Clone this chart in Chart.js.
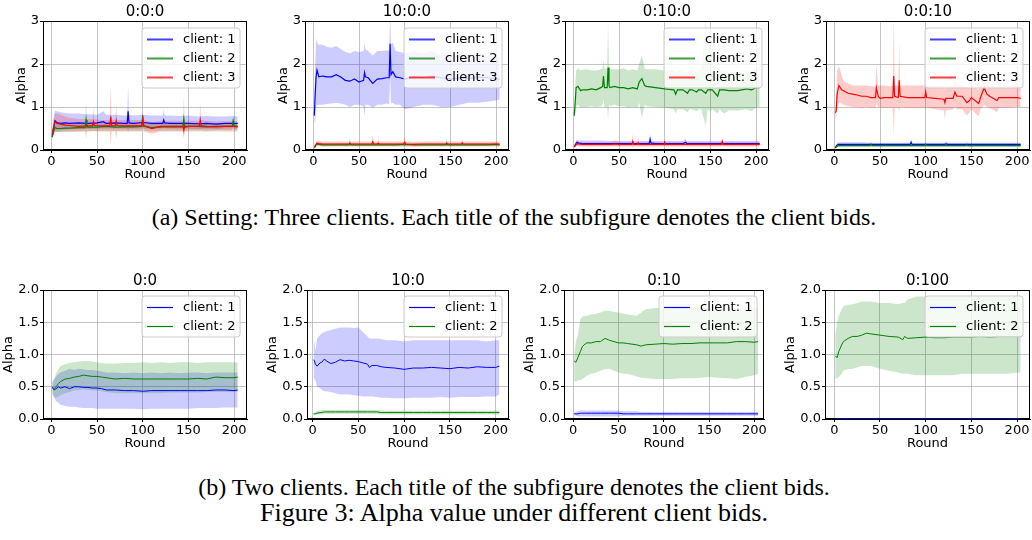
<!DOCTYPE html>
<html><head><meta charset="utf-8">
<script src="https://cdn.jsdelivr.net/npm/chart.js@4.4.1/dist/chart.umd.min.js"></script>
<style>
html,body{margin:0;padding:0;background:#fff;width:1032px;height:540px;overflow:hidden;position:relative}
canvas{position:absolute}
.cap{position:absolute;left:-2px;width:1032px;text-align:center;font-family:"Liberation Serif","Times New Roman",serif;line-height:1;white-space:nowrap;color:#000}
</style></head><body>
<div class="cap" style="top:205px;font-size:24px">(a) Setting: Three clients. Each title of the subfigure denotes the client bids.</div>
<div class="cap" style="top:475px;font-size:24px">(b) Two clients. Each title of the subfigure denotes the client bids.</div>
<div class="cap" style="top:500px;font-size:26px">Figure 3: Alpha value under different client bids.</div>
<script>
// ---------- labels / ticks ----------
const CLIENT_LABELS = ['client: 1', 'client: 2', 'client: 3'];
const TITLES_TOP = ['0:0:0', '10:0:0', '0:10:0', '0:0:10'];
const TITLES_BOTTOM = ['0:0', '10:0', '0:10', '0:100'];
const X_TICKS = [0, 50, 100, 150, 200];
const Y_TICKS_TOP = [0, 1, 2, 3];
const Y_TICKS_BOTTOM = [0, 0.5, 1, 1.5, 2];

// ---------- (a) 0:0:0 ----------
const A_c1_x = [1,2,4,6,10,15,20,30,40,50,57,60,70,80,83,84,85,90,100,110,120,122,123,124,130,140,150,160,170,180,190,200,204];
const A_c1_mean = [0.31,0.45,0.68,0.64,0.62,0.63,0.62,0.63,0.62,0.63,0.66,0.62,0.63,0.62,0.62,0.9,0.63,0.62,0.64,0.62,0.62,0.62,0.7,0.63,0.62,0.62,0.62,0.61,0.62,0.6,0.62,0.62,0.62];
const A_c1_hi = [0.4,0.7,0.92,0.9,0.88,0.86,0.85,0.85,0.83,0.82,0.9,0.82,0.82,0.8,0.8,1.5,0.82,0.8,0.82,0.8,0.8,0.8,0.95,0.8,0.8,0.79,0.8,0.78,0.79,0.78,0.78,0.79,0.78];
const A_c1_lo = [0.25,0.3,0.45,0.45,0.46,0.47,0.48,0.48,0.49,0.5,0.5,0.5,0.5,0.5,0.5,0.42,0.5,0.5,0.5,0.5,0.5,0.5,0.55,0.5,0.5,0.5,0.5,0.49,0.5,0.48,0.5,0.5,0.5];
const A_c2_x = [1,2,4,6,10,15,20,30,37,38,39,50,60,70,80,90,99,100,101,110,120,130,140,144,145,146,150,160,170,180,190,198,199,200,204];
const A_c2_mean = [0.3,0.42,0.52,0.5,0.5,0.51,0.51,0.52,0.52,0.7,0.53,0.53,0.55,0.53,0.54,0.54,0.55,0.8,0.55,0.52,0.54,0.54,0.54,0.54,0.72,0.53,0.55,0.55,0.54,0.55,0.55,0.55,0.68,0.56,0.55];
const A_c2_hi = [0.38,0.5,0.6,0.6,0.6,0.6,0.6,0.61,0.62,1.15,0.62,0.62,0.63,0.62,0.62,0.62,0.63,0.85,0.63,0.6,0.62,0.62,0.62,0.62,1.25,0.62,0.62,0.63,0.62,0.62,0.63,0.63,0.8,0.63,0.62];
const A_c2_lo = [0.25,0.35,0.42,0.42,0.42,0.43,0.43,0.44,0.44,0.25,0.44,0.44,0.45,0.44,0.45,0.45,0.45,0.75,0.45,0.43,0.45,0.45,0.45,0.45,0.3,0.44,0.46,0.46,0.45,0.46,0.46,0.46,0.55,0.47,0.46];
const A_c3_x = [1,2,4,6,10,15,20,30,40,45,46,47,55,60,64,65,66,70,71,72,80,90,99,100,101,110,120,130,140,144,145,146,150,162,163,164,170,180,190,200,204];
const A_c3_mean = [0.35,0.5,0.66,0.62,0.6,0.58,0.57,0.55,0.56,0.56,0.66,0.57,0.56,0.56,0.56,0.78,0.57,0.56,0.68,0.57,0.56,0.56,0.56,0.73,0.57,0.5,0.55,0.55,0.55,0.55,0.46,0.55,0.55,0.55,0.7,0.56,0.55,0.54,0.55,0.55,0.54];
const A_c3_hi = [0.42,0.65,0.85,0.85,0.82,0.78,0.75,0.72,0.72,0.72,1.0,0.72,0.7,0.7,0.7,1.5,0.72,0.7,1.05,0.7,0.7,0.7,0.7,0.9,0.7,0.65,0.68,0.68,0.68,0.68,0.6,0.68,0.68,0.68,1.12,0.7,0.68,0.66,0.67,0.67,0.66];
const A_c3_lo = [0.28,0.35,0.42,0.42,0.42,0.42,0.42,0.42,0.43,0.43,0.45,0.43,0.43,0.43,0.43,0.1,0.43,0.43,0.25,0.43,0.43,0.43,0.43,0.55,0.43,0.38,0.43,0.43,0.43,0.43,0.28,0.43,0.43,0.43,0.45,0.43,0.43,0.43,0.43,0.43,0.43];

// ---------- (a) 10:0:0 ----------
const B_c1_x = [1,2,3,4,6,10,15,20,25,30,35,40,45,50,55,56,57,60,65,70,75,80,83,84,85,87,90,95,100,110,120,130,140,150,160,170,180,190,200,204];
const B_c1_mean = [0.8,1.3,1.7,1.86,1.7,1.72,1.7,1.7,1.75,1.7,1.62,1.6,1.65,1.58,1.62,1.8,1.7,1.68,1.55,1.65,1.66,1.68,1.68,2.47,1.75,1.82,1.7,1.68,1.65,1.7,1.68,1.72,1.68,1.65,1.68,1.66,1.7,1.68,1.66,1.65];
const B_c1_hi = [0.9,2.0,2.6,2.5,2.45,2.45,2.4,2.38,2.42,2.35,2.28,2.25,2.3,2.28,2.3,2.5,2.35,2.3,2.2,2.3,2.3,2.32,2.3,3.2,2.45,2.5,2.3,2.28,2.25,2.3,2.25,2.3,2.2,2.2,2.25,2.22,2.25,2.2,2.2,2.15];
const B_c1_lo = [0.65,0.62,1.0,1.05,1.05,1.05,1.07,1.08,1.1,1.08,1.05,1.0,1.05,1.05,1.02,0.78,1.05,1.05,0.98,1.05,1.05,1.08,1.06,1.7,1.08,1.1,1.05,1.05,0.95,1.0,1.05,1.05,1.0,1.0,1.05,1.1,1.1,1.12,1.15,1.18];
const B_c2_x = [1,2,4,6,10,20,30,39,40,41,50,60,70,80,90,100,110,120,130,140,145,146,147,150,160,170,180,190,200,204];
const B_c2_mean = [0.05,0.09,0.14,0.13,0.12,0.12,0.12,0.12,0.16,0.12,0.12,0.12,0.12,0.12,0.12,0.13,0.12,0.12,0.12,0.12,0.12,0.16,0.12,0.12,0.12,0.12,0.12,0.12,0.13,0.12];
const B_c2_hi = [0.07,0.12,0.18,0.17,0.16,0.16,0.16,0.16,0.28,0.16,0.16,0.16,0.16,0.16,0.16,0.18,0.16,0.16,0.16,0.16,0.16,0.28,0.16,0.16,0.16,0.16,0.16,0.16,0.18,0.16];
const B_c2_lo = [0.04,0.06,0.1,0.09,0.08,0.08,0.08,0.08,0.09,0.08,0.08,0.08,0.08,0.08,0.08,0.09,0.08,0.08,0.08,0.08,0.08,0.09,0.08,0.08,0.08,0.08,0.08,0.08,0.09,0.08];
const B_c3_x = [1,2,4,6,10,20,30,40,50,64,65,66,70,71,72,80,90,99,100,101,110,120,130,140,150,162,163,164,170,180,190,200,204];
const B_c3_mean = [0.06,0.1,0.16,0.15,0.14,0.14,0.14,0.14,0.14,0.14,0.19,0.14,0.14,0.16,0.14,0.14,0.14,0.14,0.18,0.14,0.13,0.14,0.14,0.14,0.14,0.14,0.17,0.14,0.14,0.14,0.14,0.14,0.14];
const B_c3_hi = [0.08,0.15,0.22,0.21,0.2,0.2,0.2,0.2,0.2,0.2,0.36,0.2,0.2,0.25,0.2,0.2,0.2,0.2,0.3,0.2,0.19,0.2,0.2,0.2,0.2,0.2,0.24,0.2,0.2,0.2,0.2,0.2,0.2];
const B_c3_lo = [0.05,0.07,0.1,0.1,0.09,0.09,0.09,0.09,0.09,0.09,0.09,0.09,0.09,0.09,0.09,0.09,0.09,0.09,0.1,0.09,0.08,0.09,0.09,0.09,0.09,0.09,0.1,0.09,0.09,0.09,0.09,0.09,0.09];

// ---------- (a) 0:10:0 ----------
const C_c1_x = [1,2,4,6,10,20,30,40,50,60,70,80,83,84,85,90,100,110,120,123,124,130,140,150,160,170,180,190,200,204];
const C_c1_mean = [0.07,0.12,0.18,0.16,0.15,0.15,0.15,0.15,0.15,0.15,0.15,0.15,0.15,0.25,0.16,0.15,0.15,0.15,0.15,0.18,0.15,0.15,0.15,0.15,0.15,0.15,0.15,0.15,0.15,0.15];
const C_c1_hi = [0.09,0.18,0.24,0.22,0.22,0.22,0.22,0.21,0.21,0.21,0.21,0.21,0.21,0.38,0.22,0.21,0.21,0.21,0.21,0.26,0.21,0.21,0.21,0.21,0.21,0.21,0.21,0.21,0.21,0.21];
const C_c1_lo = [0.05,0.08,0.11,0.1,0.1,0.1,0.1,0.1,0.1,0.1,0.1,0.1,0.1,0.12,0.1,0.1,0.1,0.1,0.1,0.11,0.1,0.1,0.1,0.1,0.1,0.1,0.1,0.1,0.1,0.1];
const C_c2_x = [1,2,3,5,8,10,15,20,25,30,32,33,34,37,38,39,40,45,50,55,60,65,70,72,75,78,80,90,100,110,112,114,120,125,127,130,135,137,140,145,147,150,152,158,160,165,170,180,190,195,200,204];
const C_c2_mean = [0.8,1.1,1.45,1.48,1.38,1.4,1.4,1.42,1.4,1.45,1.48,1.72,1.45,1.45,1.92,1.5,1.45,1.48,1.45,1.45,1.42,1.45,1.42,1.58,1.66,1.5,1.48,1.45,1.42,1.4,1.3,1.4,1.4,1.32,1.4,1.4,1.35,1.4,1.4,1.32,1.4,1.4,1.4,1.25,1.4,1.4,1.38,1.38,1.42,1.4,1.45,1.45];
const C_c2_hi = [0.95,1.5,1.85,1.9,1.85,1.87,1.88,1.85,1.85,1.88,1.9,2.1,1.88,1.9,3.0,1.9,1.88,1.88,1.87,1.9,1.85,1.88,1.85,2.0,2.2,1.9,1.88,1.88,1.85,1.85,1.8,1.85,1.85,1.8,1.85,1.85,1.82,1.85,1.85,3.0,1.9,2.9,1.85,1.8,1.85,1.85,1.82,1.82,1.85,1.85,1.9,1.9];
const C_c2_lo = [0.7,0.8,1.0,1.05,0.98,1.0,1.0,1.02,1.0,1.02,1.05,1.2,1.0,1.0,0.7,1.05,1.02,1.05,1.02,1.02,0.98,1.0,0.98,1.1,0.75,1.05,1.02,1.0,0.98,0.95,0.85,0.95,0.95,0.88,0.95,0.95,0.9,0.95,0.95,0.55,0.95,0.9,0.95,0.85,0.95,0.85,0.92,0.92,0.95,0.9,0.98,1.0];
const C_c3_x = [1,2,4,6,10,20,30,40,46,50,60,64,65,66,70,71,72,80,90,99,100,101,110,120,130,140,150,162,163,164,170,180,190,200,204];
const C_c3_mean = [0.07,0.1,0.15,0.14,0.13,0.13,0.13,0.13,0.14,0.13,0.13,0.13,0.2,0.13,0.13,0.17,0.13,0.13,0.13,0.13,0.18,0.13,0.13,0.13,0.13,0.13,0.13,0.13,0.2,0.13,0.13,0.13,0.13,0.13,0.13];
const C_c3_hi = [0.09,0.14,0.2,0.19,0.18,0.18,0.18,0.18,0.22,0.18,0.18,0.18,0.38,0.18,0.18,0.3,0.18,0.18,0.18,0.18,0.26,0.18,0.18,0.18,0.18,0.18,0.18,0.18,0.28,0.18,0.18,0.18,0.18,0.18,0.18];
const C_c3_lo = [0.05,0.07,0.1,0.09,0.08,0.08,0.08,0.08,0.08,0.08,0.08,0.08,0.06,0.08,0.08,0.07,0.08,0.08,0.08,0.08,0.1,0.08,0.08,0.08,0.08,0.08,0.08,0.08,0.1,0.08,0.08,0.08,0.08,0.08,0.08];

// ---------- (a) 0:0:10 ----------
const D_c1_x = [1,2,4,6,10,20,30,40,50,60,70,80,83,84,85,90,100,110,120,123,124,130,140,150,160,170,180,190,200,204];
const D_c1_mean = [0.05,0.09,0.13,0.13,0.13,0.13,0.13,0.13,0.13,0.13,0.13,0.13,0.13,0.18,0.13,0.13,0.13,0.13,0.13,0.14,0.13,0.13,0.13,0.13,0.13,0.13,0.13,0.13,0.13,0.13];
const D_c1_hi = [0.07,0.13,0.18,0.18,0.18,0.18,0.18,0.17,0.17,0.17,0.17,0.17,0.17,0.28,0.17,0.17,0.17,0.17,0.17,0.2,0.17,0.17,0.17,0.17,0.17,0.17,0.17,0.17,0.17,0.17];
const D_c1_lo = [0.04,0.06,0.09,0.09,0.09,0.09,0.09,0.09,0.09,0.09,0.09,0.09,0.09,0.1,0.09,0.09,0.09,0.09,0.09,0.1,0.09,0.09,0.09,0.09,0.09,0.09,0.09,0.09,0.09,0.09];
const D_c2_x = [1,2,4,6,10,20,30,39,40,41,50,60,70,80,90,99,100,101,110,120,130,140,144,145,146,150,160,170,180,190,200,204];
const D_c2_mean = [0.05,0.07,0.1,0.1,0.1,0.1,0.1,0.1,0.13,0.1,0.1,0.1,0.1,0.1,0.1,0.1,0.13,0.1,0.1,0.1,0.1,0.1,0.1,0.12,0.1,0.1,0.1,0.1,0.1,0.1,0.1,0.1];
const D_c2_hi = [0.06,0.09,0.12,0.12,0.12,0.12,0.12,0.12,0.22,0.12,0.12,0.12,0.12,0.12,0.12,0.12,0.2,0.12,0.12,0.12,0.12,0.12,0.12,0.22,0.12,0.12,0.12,0.12,0.12,0.12,0.12,0.12];
const D_c2_lo = [0.04,0.05,0.07,0.07,0.07,0.07,0.07,0.07,0.08,0.07,0.07,0.07,0.07,0.07,0.07,0.07,0.08,0.07,0.07,0.07,0.07,0.07,0.07,0.08,0.07,0.07,0.07,0.07,0.07,0.07,0.07,0.07];
const D_c3_x = [1,2,3,5,8,10,15,20,25,30,35,40,45,46,48,50,55,60,64,65,66,70,71,72,80,90,99,100,101,110,120,121,122,130,132,134,140,145,148,150,158,160,164,167,170,178,180,190,200,204];
const D_c3_mean = [0.87,0.9,1.3,1.5,1.4,1.38,1.32,1.3,1.28,1.25,1.25,1.22,1.22,1.45,1.25,1.2,1.22,1.22,1.22,1.72,1.25,1.22,1.62,1.25,1.22,1.22,1.22,1.35,1.22,1.2,1.18,1.1,1.2,1.2,1.35,1.25,1.25,1.1,1.15,1.22,1.08,1.22,1.45,1.3,1.25,1.15,1.22,1.22,1.22,1.2];
const D_c3_hi = [0.95,1.3,1.85,1.95,1.75,1.6,1.55,1.5,1.5,1.5,1.5,1.48,1.48,2.0,1.5,1.5,1.5,1.48,1.5,3.2,1.5,1.5,2.5,1.5,1.5,1.5,1.5,1.6,1.5,1.48,1.48,1.4,1.48,1.48,1.65,1.5,1.5,1.45,1.45,1.5,1.4,1.5,1.75,1.55,1.5,1.45,1.5,1.5,1.5,1.48];
const D_c3_lo = [0.72,0.75,0.9,1.1,1.08,1.05,1.02,1.0,1.0,0.98,1.0,0.98,0.98,1.1,1.0,0.98,0.98,0.98,0.98,0.3,0.98,0.98,0.9,1.0,0.98,0.98,0.98,0.95,0.98,0.95,0.92,0.7,0.92,0.95,1.0,0.95,0.95,0.8,0.88,0.95,0.78,0.95,1.05,1.0,0.98,0.88,0.98,0.98,1.0,1.0];

// ---------- (b) 0:0 ----------
const E_x = [1,3,5,8,10,15,20,25,30,35,40,45,50,55,60,65,70,80,90,100,110,120,130,140,150,160,170,180,190,200,204];
const E_c1_mean = [0.5,0.45,0.47,0.5,0.48,0.5,0.47,0.5,0.5,0.49,0.49,0.48,0.48,0.47,0.45,0.45,0.45,0.44,0.44,0.43,0.44,0.44,0.44,0.44,0.44,0.44,0.44,0.45,0.45,0.44,0.45];
const E_c1_hi = [0.58,0.62,0.66,0.7,0.72,0.75,0.78,0.76,0.78,0.77,0.76,0.76,0.75,0.74,0.72,0.72,0.72,0.71,0.72,0.71,0.72,0.71,0.72,0.71,0.72,0.72,0.71,0.72,0.72,0.72,0.72];
const E_c1_lo = [0.42,0.33,0.28,0.25,0.22,0.2,0.19,0.19,0.18,0.17,0.17,0.17,0.16,0.16,0.16,0.16,0.16,0.16,0.16,0.15,0.16,0.16,0.16,0.16,0.16,0.17,0.17,0.17,0.18,0.18,0.18];
const E_c2_mean = [0.48,0.47,0.5,0.55,0.58,0.62,0.63,0.65,0.66,0.68,0.67,0.66,0.66,0.65,0.64,0.63,0.62,0.63,0.62,0.62,0.62,0.62,0.62,0.62,0.62,0.63,0.62,0.65,0.64,0.64,0.65];
const E_c2_hi = [0.56,0.6,0.7,0.78,0.82,0.85,0.87,0.88,0.89,0.9,0.9,0.89,0.88,0.87,0.86,0.86,0.86,0.87,0.87,0.88,0.87,0.88,0.87,0.88,0.88,0.87,0.88,0.88,0.88,0.88,0.88];
const E_c2_lo = [0.38,0.35,0.33,0.35,0.37,0.4,0.42,0.44,0.45,0.46,0.45,0.44,0.44,0.43,0.42,0.41,0.4,0.4,0.4,0.4,0.4,0.4,0.41,0.41,0.41,0.41,0.42,0.42,0.42,0.42,0.42];

// ---------- (b) 10:0 ----------
const F_x = [1,2,3,5,8,10,13,15,20,25,30,35,40,45,50,55,60,62,65,70,75,80,90,100,110,120,130,140,150,160,170,180,190,200,204];
const F_c1_mean = [0.92,0.9,0.85,0.82,0.87,0.88,0.93,0.9,0.86,0.88,0.92,0.9,0.91,0.9,0.89,0.87,0.85,0.8,0.83,0.83,0.81,0.8,0.79,0.77,0.79,0.79,0.8,0.79,0.78,0.8,0.79,0.81,0.8,0.8,0.82];
const F_c1_hi = [1.2,1.2,1.05,1.25,1.3,1.33,1.35,1.36,1.38,1.4,1.42,1.42,1.42,1.41,1.42,1.35,1.28,1.25,1.25,1.25,1.24,1.22,1.22,1.2,1.22,1.22,1.22,1.22,1.22,1.22,1.22,1.22,1.2,1.22,1.22];
const F_c1_lo = [0.65,0.62,0.6,0.5,0.48,0.45,0.43,0.43,0.42,0.4,0.38,0.38,0.38,0.37,0.36,0.35,0.35,0.35,0.35,0.34,0.33,0.33,0.32,0.32,0.33,0.33,0.33,0.34,0.33,0.34,0.34,0.34,0.35,0.35,0.38];
const F_c2_mean = [0.08,0.08,0.08,0.09,0.1,0.1,0.11,0.11,0.11,0.11,0.11,0.11,0.11,0.11,0.11,0.11,0.11,0.11,0.11,0.11,0.1,0.1,0.1,0.1,0.1,0.1,0.1,0.1,0.1,0.1,0.1,0.1,0.1,0.1,0.1];
const F_c2_hi = [0.1,0.1,0.11,0.12,0.13,0.14,0.14,0.14,0.14,0.14,0.14,0.14,0.14,0.14,0.14,0.14,0.14,0.14,0.14,0.14,0.13,0.13,0.13,0.13,0.13,0.13,0.13,0.13,0.13,0.13,0.13,0.13,0.13,0.13,0.13];
const F_c2_lo = [0.06,0.06,0.06,0.07,0.07,0.07,0.08,0.08,0.08,0.08,0.08,0.08,0.08,0.08,0.08,0.08,0.08,0.08,0.08,0.08,0.07,0.07,0.07,0.07,0.07,0.07,0.07,0.07,0.07,0.07,0.07,0.07,0.07,0.07,0.07];

// ---------- (b) 0:10 ----------
const G_x = [1,3,5,8,10,12,15,20,25,30,35,40,45,50,55,60,70,75,80,90,100,110,120,130,140,150,160,170,180,190,200,204];
const G_c1_mean = [0.08,0.08,0.08,0.09,0.09,0.09,0.09,0.09,0.09,0.09,0.09,0.09,0.09,0.09,0.08,0.08,0.08,0.08,0.08,0.08,0.08,0.08,0.08,0.08,0.08,0.08,0.08,0.08,0.08,0.08,0.08,0.08];
const G_c1_hi = [0.1,0.11,0.12,0.13,0.13,0.13,0.13,0.13,0.13,0.13,0.13,0.13,0.13,0.13,0.12,0.12,0.12,0.11,0.11,0.11,0.11,0.11,0.11,0.11,0.11,0.11,0.11,0.11,0.11,0.11,0.11,0.11];
const G_c1_lo = [0.06,0.05,0.04,0.04,0.04,0.04,0.04,0.04,0.04,0.04,0.04,0.04,0.04,0.04,0.05,0.05,0.05,0.05,0.05,0.05,0.05,0.05,0.05,0.05,0.05,0.05,0.05,0.05,0.05,0.05,0.05,0.05];
const G_c2_mean = [0.9,0.88,0.95,1.05,1.12,1.15,1.18,1.18,1.2,1.2,1.25,1.22,1.2,1.18,1.18,1.17,1.15,1.13,1.15,1.16,1.17,1.16,1.17,1.17,1.18,1.18,1.18,1.18,1.2,1.2,1.19,1.2];
const G_c2_hi = [1.0,1.2,1.3,1.55,1.58,1.6,1.6,1.62,1.63,1.65,1.68,1.68,1.66,1.65,1.63,1.62,1.6,1.65,1.7,1.72,1.72,1.72,1.72,1.72,1.72,1.72,1.72,1.72,1.72,1.72,1.72,1.72];
const G_c2_lo = [0.58,0.58,0.6,0.6,0.62,0.64,0.67,0.7,0.72,0.75,0.77,0.78,0.75,0.72,0.7,0.7,0.66,0.64,0.63,0.62,0.62,0.62,0.63,0.63,0.64,0.65,0.64,0.63,0.62,0.65,0.68,0.7];

// ---------- (b) 0:100 ----------
const H_x = [1,3,5,8,10,15,20,25,30,35,40,50,60,70,75,77,80,90,100,110,120,130,140,150,160,170,180,190,200,204];
const H_c1_mean = [0.003,0.003,0.003,0.003,0.003,0.003,0.003,0.003,0.003,0.003,0.003,0.003,0.003,0.003,0.003,0.003,0.003,0.003,0.003,0.003,0.003,0.003,0.003,0.003,0.003,0.003,0.003,0.003,0.003,0.003];
const H_c1_hi = [0.005,0.005,0.005,0.005,0.005,0.005,0.005,0.005,0.005,0.005,0.005,0.005,0.005,0.005,0.005,0.005,0.005,0.005,0.005,0.005,0.005,0.005,0.005,0.005,0.005,0.005,0.005,0.005,0.005,0.005];
const H_c1_lo = [0.001,0.001,0.001,0.001,0.001,0.001,0.001,0.001,0.001,0.001,0.001,0.001,0.001,0.001,0.001,0.001,0.001,0.001,0.001,0.001,0.001,0.001,0.001,0.001,0.001,0.001,0.001,0.001,0.001,0.001];
const H_c2_mean = [0.98,0.95,1.05,1.15,1.2,1.25,1.28,1.28,1.3,1.33,1.32,1.3,1.28,1.27,1.23,1.28,1.25,1.26,1.27,1.26,1.26,1.27,1.27,1.27,1.28,1.27,1.28,1.28,1.28,1.28];
const H_c2_hi = [1.3,1.5,1.6,1.7,1.75,1.77,1.78,1.8,1.82,1.82,1.82,1.8,1.8,1.78,1.8,1.8,1.85,1.9,1.9,1.9,1.9,1.9,1.9,1.9,1.9,1.9,1.9,1.9,1.9,1.92];
const H_c2_lo = [0.62,0.63,0.65,0.7,0.75,0.77,0.78,0.8,0.82,0.82,0.82,0.78,0.75,0.72,0.7,0.7,0.7,0.68,0.68,0.68,0.68,0.68,0.7,0.7,0.7,0.7,0.7,0.7,0.72,0.72];

// ---------- styling ----------
const LINE_COLORS = ['#0000ff', '#008000', '#ff0000'];
const BAND_COLORS = ['rgba(0,0,255,0.2)', 'rgba(0,128,0,0.2)', 'rgba(255,0,0,0.2)'];

Chart.defaults.font.family = '"DejaVu Sans", sans-serif';
Chart.defaults.font.size = 13;
Chart.defaults.color = '#000';
Chart.defaults.animation = false;

const framePlugin = {
  id: 'frame',
  beforeDatasetsDraw(chart) {
    const {ctx, chartArea: a} = chart;
    ctx.save();
    ctx.strokeStyle = '#000';
    ctx.lineWidth = 1;
    ctx.strokeRect(Math.round(a.left) + 0.5, Math.round(a.top) + 0.5,
                   Math.round(a.right - a.left) - 1, Math.round(a.bottom - a.top) - 1);
    ctx.restore();
  }
};

const insideLegend = {
  id: 'insideLegend',
  afterDraw(chart, args, opts) {
    const items = chart.data.datasets.filter(d => d.showInLegend);
    const {ctx, chartArea: a} = chart;
    const w = 98, rowH = 19, pad = 11;
    const h = pad * 2 + rowH * (items.length - 1);
    const x = a.right - 7 - w, y = a.top + opts.offsetTop;
    const r = 3;
    ctx.save();
    ctx.beginPath();
    ctx.moveTo(x + r, y);
    ctx.lineTo(x + w - r, y); ctx.quadraticCurveTo(x + w, y, x + w, y + r);
    ctx.lineTo(x + w, y + h - r); ctx.quadraticCurveTo(x + w, y + h, x + w - r, y + h);
    ctx.lineTo(x + r, y + h); ctx.quadraticCurveTo(x, y + h, x, y + h - r);
    ctx.lineTo(x, y + r); ctx.quadraticCurveTo(x, y, x + r, y);
    ctx.closePath();
    ctx.fillStyle = 'rgba(255,255,255,0.8)';
    ctx.fill();
    ctx.strokeStyle = '#cccccc';
    ctx.lineWidth = 1;
    ctx.stroke();
    items.forEach((d, i) => {
      const cy = Math.round(y + pad + i * rowH) + 0.5;
      ctx.globalAlpha = opts.handleAlpha;
      ctx.strokeStyle = d.borderColor;
      ctx.lineWidth = opts.handleWidth;
      ctx.beginPath(); ctx.moveTo(x + 5, cy); ctx.lineTo(x + 31, cy); ctx.stroke();
      ctx.globalAlpha = 1;
      ctx.fillStyle = '#000';
      ctx.font = '13px "DejaVu Sans"';
      ctx.textBaseline = 'middle';
      ctx.textAlign = 'left';
      ctx.fillText(d.label, x + 41, cy);
    });
    ctx.restore();
  }
};

function makePanel(cfg) {
  const TITLE_H = 22, XH = 32, RP = 2;
  const canvas = document.createElement('canvas');
  const w = cfg.YW + (cfg.R - cfg.L) + RP;
  const h = TITLE_H + (cfg.B - cfg.T) + XH;
  canvas.width = w; canvas.height = h;
  canvas.style.left = (cfg.L - cfg.YW) + 'px';
  canvas.style.top = (cfg.T - TITLE_H) + 'px';
  canvas.style.width = w + 'px'; canvas.style.height = h + 'px';
  document.body.appendChild(canvas);

  const lines = [], bands = [];
  cfg.series.forEach((s, k) => {
    const pts = arr => s.x.map((x, i) => ({x: x, y: arr[i]}));
    lines.push({label: CLIENT_LABELS[s.client], data: pts(s.mean), borderColor: LINE_COLORS[s.client],
      backgroundColor: LINE_COLORS[s.client], borderWidth: cfg.lw, pointRadius: 0, fill: false,
      tension: 0, showInLegend: true, order: 10 - k});
    bands.push({label: 'hi', data: pts(s.hi), borderWidth: 0, borderColor: 'rgba(0,0,0,0)',
      backgroundColor: BAND_COLORS[s.client], pointRadius: 0, fill: '+1', order: 40 - 2 * k});
    bands.push({label: 'lo', data: pts(s.lo), borderWidth: 0, borderColor: 'rgba(0,0,0,0)',
      backgroundColor: 'rgba(0,0,0,0)', pointRadius: 0, fill: false, order: 39 - 2 * k});
  });

  const gridOpts = {color: 'rgba(176,176,176,0.75)', lineWidth: 1, tickLength: 3, tickColor: '#000', drawTicks: true};
  new Chart(canvas, {
    type: 'line',
    data: {datasets: lines.concat(bands)},
    plugins: [framePlugin, insideLegend],
    options: {
      responsive: false, animation: false, devicePixelRatio: 1,
      layout: {padding: {left: 0, top: 0, right: RP, bottom: 0}, autoPadding: false},
      plugins: {
        legend: {display: false}, tooltip: {enabled: false},
        title: {display: true, text: cfg.title, color: '#000', fullSize: false,
          font: {size: 15, weight: 'normal', lineHeight: 1.2}, padding: {top: 4, bottom: 0}},
        insideLegend: {handleWidth: cfg.handleW, handleAlpha: cfg.handleAlpha, offsetTop: cfg.legTop}
      },
      scales: {
        x: {type: 'linear', min: cfg.xmin, max: cfg.xmax,
          afterBuildTicks: sc => { sc.ticks = X_TICKS.map(v => ({value: v})); },
          ticks: {color: '#000', font: {size: 13}, padding: 1, maxRotation: 0, autoSkip: false, callback: v => String(v)},
          grid: gridOpts, border: {display: true, color: '#000'},
          title: {display: true, text: 'Round', color: '#000', font: {size: 13}, padding: {top: 0, bottom: 0}},
          afterFit: sc => { sc.height = XH; }
        },
        y: {type: 'linear', min: 0, max: cfg.ymax,
          afterBuildTicks: sc => { sc.ticks = cfg.yTicks.map(v => ({value: v})); },
          ticks: {color: '#000', font: {size: 13}, padding: 1, autoSkip: false,
            callback: v => cfg.yDec ? Number(v).toFixed(1) : String(v)},
          grid: gridOpts, border: {display: true, color: '#000'},
          title: {display: true, text: 'Alpha', color: '#000', font: {size: 13}, padding: {top: 0, bottom: 0}},
          afterFit: sc => { sc.width = cfg.YW; }
        }
      }
    }
  });
}

const TOP = {T: 21, B: 150, YW: 29, ymax: 3, yTicks: Y_TICKS_TOP, yDec: false, lw: 1.2, handleW: 2, handleAlpha: 0.75, legTop: 7};
const BOT = {T: 290, B: 419, YW: 42, ymax: 2, yTicks: Y_TICKS_BOTTOM, yDec: true, lw: 1, handleW: 1.2, handleAlpha: 1, legTop: 6};

makePanel(Object.assign({}, TOP, {title: TITLES_TOP[0], L: 43, R: 247, xmin: -9.15, xmax: 214.15, series: [
  {client: 0, x: A_c1_x, mean: A_c1_mean, hi: A_c1_hi, lo: A_c1_lo},
  {client: 1, x: A_c2_x, mean: A_c2_mean, hi: A_c2_hi, lo: A_c2_lo},
  {client: 2, x: A_c3_x, mean: A_c3_mean, hi: A_c3_hi, lo: A_c3_lo}]}));
makePanel(Object.assign({}, TOP, {title: TITLES_TOP[1], L: 305, R: 509, xmin: -9.15, xmax: 214.15, series: [
  {client: 0, x: B_c1_x, mean: B_c1_mean, hi: B_c1_hi, lo: B_c1_lo},
  {client: 1, x: B_c2_x, mean: B_c2_mean, hi: B_c2_hi, lo: B_c2_lo},
  {client: 2, x: B_c3_x, mean: B_c3_mean, hi: B_c3_hi, lo: B_c3_lo}]}));
makePanel(Object.assign({}, TOP, {title: TITLES_TOP[2], L: 565, R: 769, xmin: -9.15, xmax: 214.15, series: [
  {client: 0, x: C_c1_x, mean: C_c1_mean, hi: C_c1_hi, lo: C_c1_lo},
  {client: 1, x: C_c2_x, mean: C_c2_mean, hi: C_c2_hi, lo: C_c2_lo},
  {client: 2, x: C_c3_x, mean: C_c3_mean, hi: C_c3_hi, lo: C_c3_lo}]}));
makePanel(Object.assign({}, TOP, {title: TITLES_TOP[3], L: 826, R: 1030, xmin: -9.15, xmax: 214.15, series: [
  {client: 0, x: D_c1_x, mean: D_c1_mean, hi: D_c1_hi, lo: D_c1_lo},
  {client: 1, x: D_c2_x, mean: D_c2_mean, hi: D_c2_hi, lo: D_c2_lo},
  {client: 2, x: D_c3_x, mean: D_c3_mean, hi: D_c3_hi, lo: D_c3_lo}]}));

makePanel(Object.assign({}, BOT, {title: TITLES_BOTTOM[0], L: 43, R: 247, xmin: -9.15, xmax: 214.15, series: [
  {client: 0, x: E_x, mean: E_c1_mean, hi: E_c1_hi, lo: E_c1_lo},
  {client: 1, x: E_x, mean: E_c2_mean, hi: E_c2_hi, lo: E_c2_lo}]}));
makePanel(Object.assign({}, BOT, {title: TITLES_BOTTOM[1], L: 307, R: 509, xmin: -6.1, xmax: 214.5, series: [
  {client: 0, x: F_x, mean: F_c1_mean, hi: F_c1_hi, lo: F_c1_lo},
  {client: 1, x: F_x, mean: F_c2_mean, hi: F_c2_hi, lo: F_c2_lo}]}));
makePanel(Object.assign({}, BOT, {title: TITLES_BOTTOM[2], L: 564, R: 766, xmin: -10.2, xmax: 210.6, series: [
  {client: 0, x: G_x, mean: G_c1_mean, hi: G_c1_hi, lo: G_c1_lo},
  {client: 1, x: G_x, mean: G_c2_mean, hi: G_c2_hi, lo: G_c2_lo}]}));
makePanel(Object.assign({}, BOT, {title: TITLES_BOTTOM[3], L: 825, R: 1030, xmin: -10.2, xmax: 214.2, series: [
  {client: 0, x: H_x, mean: H_c1_mean, hi: H_c1_hi, lo: H_c1_lo},
  {client: 1, x: H_x, mean: H_c2_mean, hi: H_c2_hi, lo: H_c2_lo}]}));
</script>
</body></html>
